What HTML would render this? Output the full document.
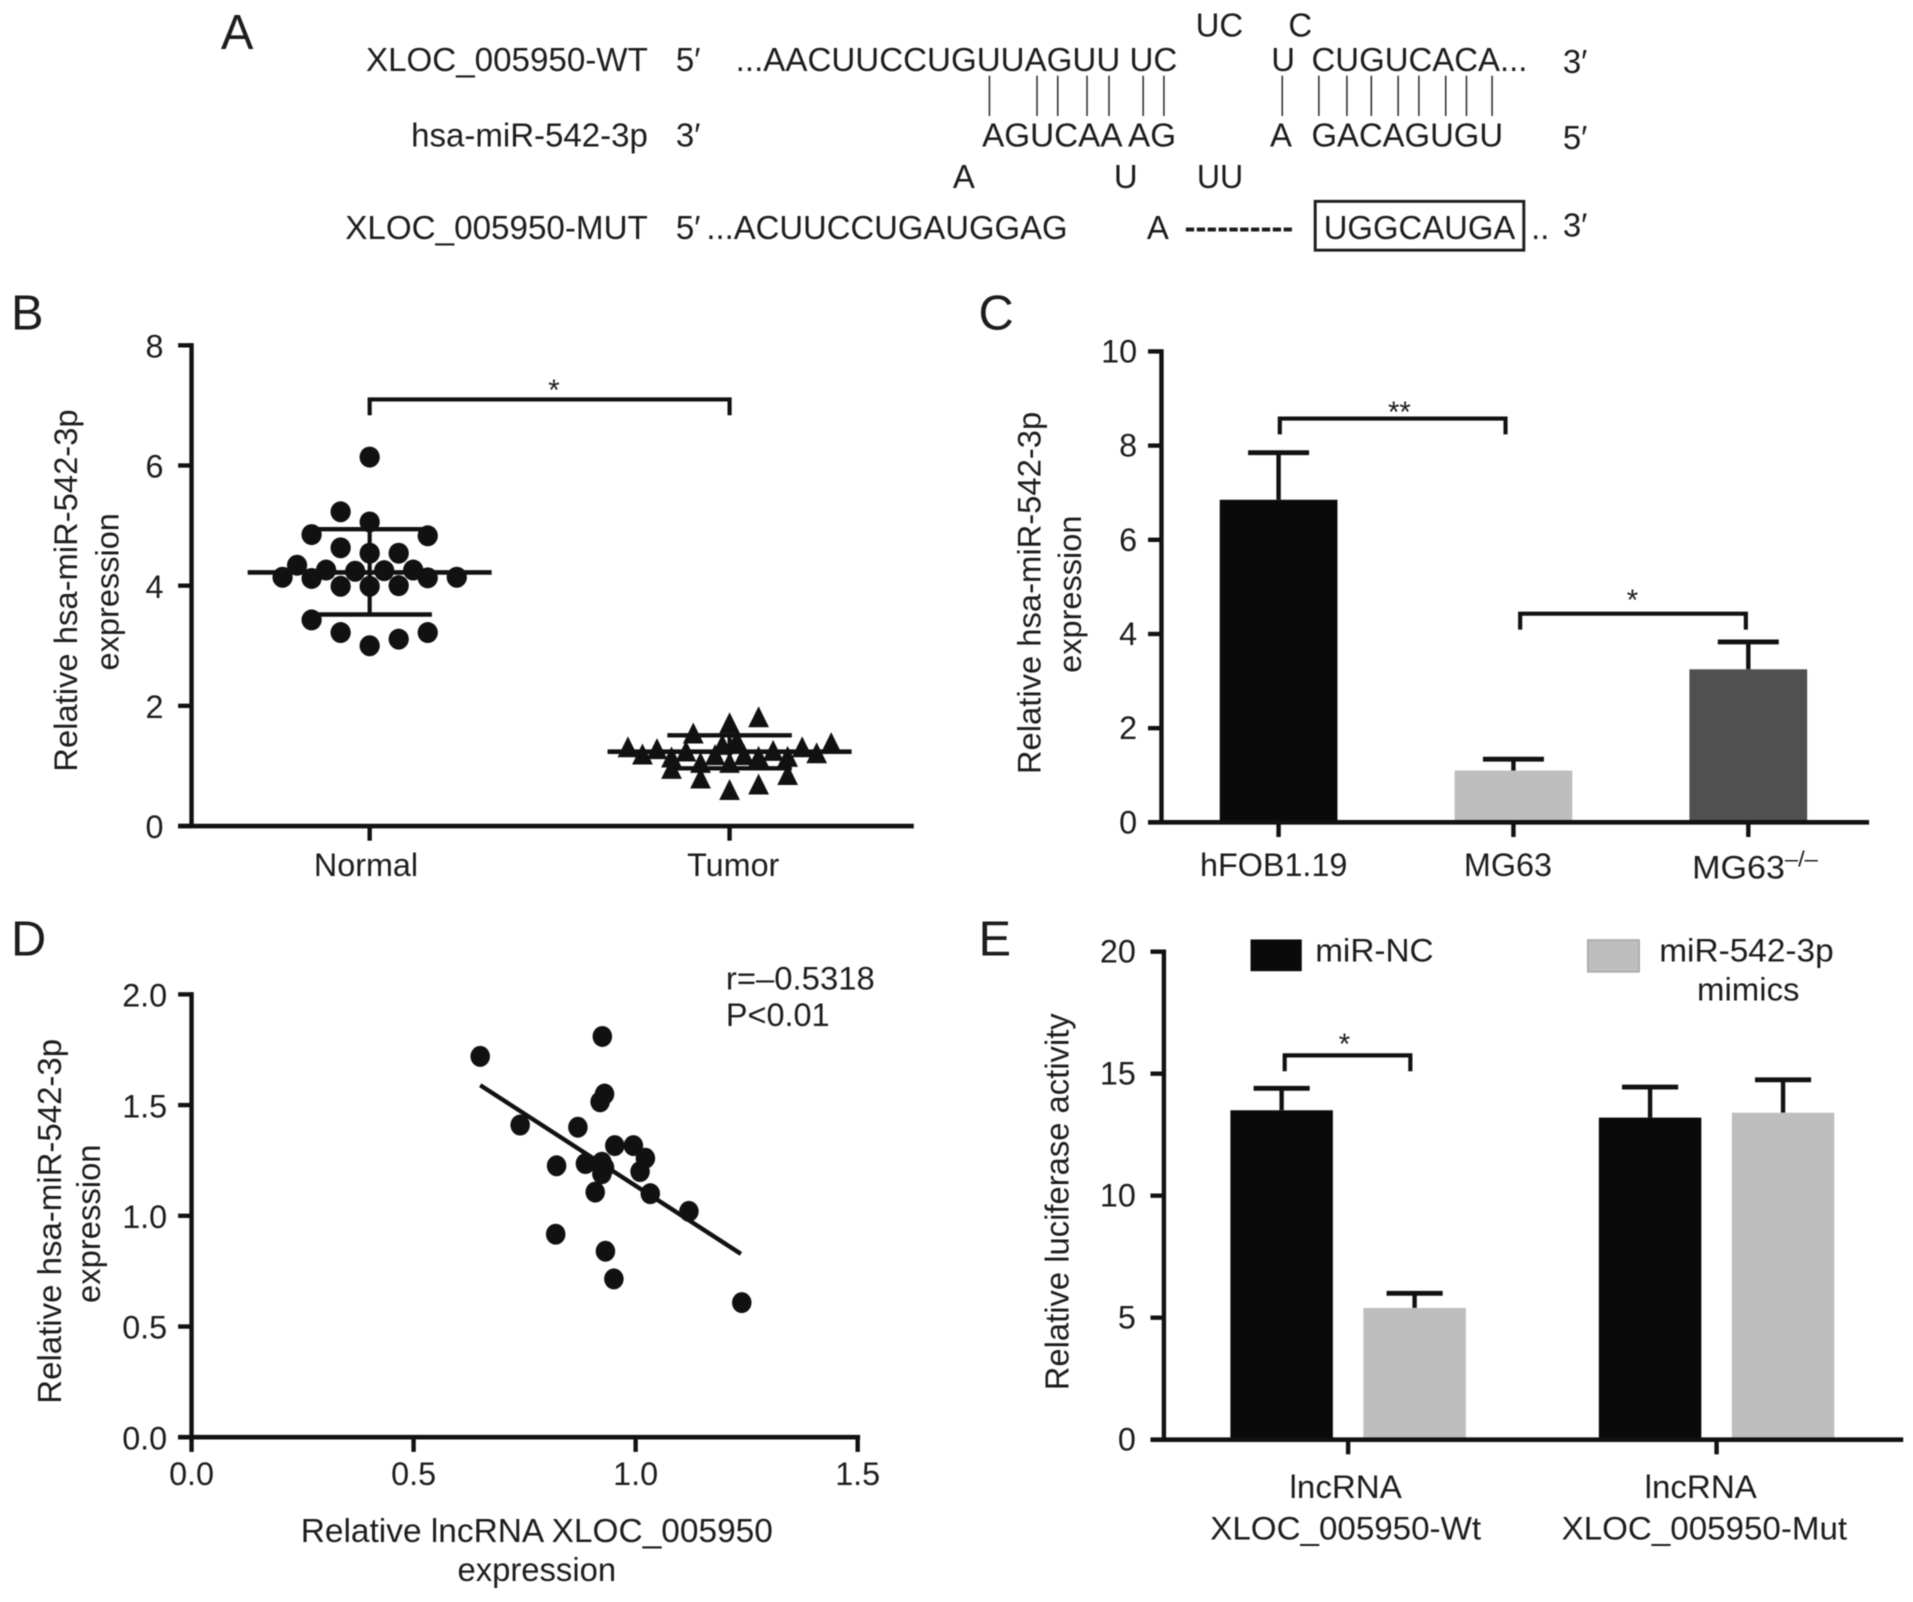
<!DOCTYPE html>
<html lang="en">
<head>
<meta charset="utf-8">
<title>hsa-miR-542-3p and XLOC_005950 figure</title>
<style>
html,body{margin:0;padding:0;background:#fff;overflow:hidden;}
svg{display:block;filter:blur(0.5px);}
text{font-family:"Liberation Sans",sans-serif;fill:#1d1d1d;}
</style>
</head>
<body>
<svg id="figure" xmlns="http://www.w3.org/2000/svg" width="1913" height="1602" viewBox="0 0 1568 1313">
<rect x="0" y="0" width="1568" height="1313" fill="#fff"/>
<g id="panel-a" font-size="27">
<text x="181" y="40" font-size="40">A</text>
<text x="980" y="30" textLength="39" lengthAdjust="spacingAndGlyphs">UC</text>
<text x="1056" y="30">C</text>
<text x="300" y="58" textLength="231" lengthAdjust="spacingAndGlyphs">XLOC_005950-WT</text>
<text x="554" y="58">5′</text>
<text x="603" y="58" textLength="362" lengthAdjust="spacingAndGlyphs">...AACUUCCUGUUAGUU UC</text>
<text x="1042" y="58">U</text>
<text x="1075" y="58" textLength="177" lengthAdjust="spacingAndGlyphs">CUGUCACA...</text>
<text x="1281" y="60">3′</text>
<g stroke="#333" stroke-width="1.3">
<line x1="811" x2="811" y1="62" y2="95"/>
<line x1="850" x2="850" y1="62" y2="95"/>
<line x1="867" x2="867" y1="62" y2="95"/>
<line x1="891" x2="891" y1="62" y2="95"/>
<line x1="909" x2="909" y1="62" y2="95"/>
<line x1="937" x2="937" y1="62" y2="95"/>
<line x1="954" x2="954" y1="62" y2="95"/>
<line x1="1051" x2="1051" y1="62" y2="95"/>
<line x1="1081" x2="1081" y1="62" y2="95"/>
<line x1="1104" x2="1104" y1="62" y2="95"/>
<line x1="1124" x2="1124" y1="62" y2="95"/>
<line x1="1146" x2="1146" y1="62" y2="95"/>
<line x1="1163" x2="1163" y1="62" y2="95"/>
<line x1="1185" x2="1185" y1="62" y2="95"/>
<line x1="1202" x2="1202" y1="62" y2="95"/>
<line x1="1223" x2="1223" y1="62" y2="95"/>
</g>
<text x="337" y="120" textLength="194" lengthAdjust="spacingAndGlyphs">hsa-miR-542-3p</text>
<text x="554" y="120">3′</text>
<text x="805" y="120" textLength="159" lengthAdjust="spacingAndGlyphs">AGUCAA AG</text>
<text x="1041" y="120">A</text>
<text x="1075" y="120" textLength="157" lengthAdjust="spacingAndGlyphs">GACAGUGU</text>
<text x="1281" y="122">5′</text>
<text x="781" y="154">A</text>
<text x="913" y="154">U</text>
<text x="981" y="154" textLength="38" lengthAdjust="spacingAndGlyphs">UU</text>
<text x="283" y="196" textLength="248" lengthAdjust="spacingAndGlyphs">XLOC_005950-MUT</text>
<text x="554" y="196">5′</text>
<text x="579" y="196" textLength="296" lengthAdjust="spacingAndGlyphs">...ACUUCCUGAUGGAG</text>
<text x="940" y="196">A</text>
<text x="971" y="195" font-weight="bold" textLength="89" lengthAdjust="spacingAndGlyphs">----------</text>
<rect x="1078" y="165" width="171" height="40" fill="none" stroke="#1d1d1d" stroke-width="2.4"/>
<text x="1085" y="196" textLength="157" lengthAdjust="spacingAndGlyphs">UGGCAUGA</text>
<text x="1255" y="196">..</text>
<text x="1281" y="194">3′</text>
</g>
</svg>
<script>
// Panel B values
const bCategories = ['Normal', 'Tumor'];
const bTicks = [0, 2, 4, 6, 8];
const normalValues = [6.14, 5.23, 5.06, 4.85, 4.83, 4.63, 4.54, 4.54, 4.34, 4.26, 4.24, 4.25, 4.26, 4.14, 4.12, 4.13, 4.14, 3.99, 3.99, 4.0, 3.43, 3.22, 3.22, 3.11, 3.0];
const normalSlots = [0, -2, 0, -4, 4, -2, 0, 2, -5, -3, -1, 1, 3, -6, -4, 4, 6, -2, 0, 2, -4, -2, 4, 2, 0];
const tumorValues = [1.81, 1.71, 1.54, 1.42, 1.35, 1.31, 1.28, 1.19, 1.24, 1.38, 1.31, 1.21, 1.14, 1.18, 1.18, 1.15, 1.25, 1.15, 1.05, 1.05, 0.95, 0.85, 0.79, 0.69, 0.6];
const tumorSlots = [2, 0, -2.5, 0.5, -0.5, -7, -5, -6, -3, 7, 5, 6, -4, -1, 1, 2, 3, 4, -2, 0, -4, 4, -2, 2, 0];
const bMeans = [4.22, 1.236];
const bUpper = [4.94, 1.51];
const bLower = [3.52, 0.96];
const bBracketLevel = 7.1;

// Panel C values
const cCategories = ['hFOB1.19', 'MG63', 'MG63'];
const cTicks = [0, 2, 4, 6, 8, 10];
const cMeans = [6.85, 1.1, 3.25];
const cErrorTops = [7.85, 1.34, 3.83];
const cBarColors = ['#0a0a0a', '#bebebe', '#505050'];

// Panel D values
const dXTicks = ['0.0', '0.5', '1.0', '1.5'];
const dYTicks = ['0.0', '0.5', '1.0', '1.5', '2.0'];
const dXValues = [0.65, 0.925, 0.93, 0.92, 0.74, 0.87, 0.953, 0.995, 1.022, 0.822, 0.887, 0.924, 0.93, 0.924, 1.01, 0.909, 1.033, 1.12, 0.82, 0.932, 0.951, 1.239];
const dYValues = [1.72, 1.81, 1.55, 1.515, 1.41, 1.4, 1.317, 1.317, 1.26, 1.226, 1.236, 1.242, 1.218, 1.19, 1.2, 1.107, 1.1, 1.02, 0.917, 0.84, 0.715, 0.608];
const dFitX = [0.65, 1.237];
const dFitY = [1.59, 0.828];

// Panel E values
const eTicks = [0, 5, 10, 15, 20];
const eNcMeans = [13.5, 13.2];
const eNcErrorTops = [14.4, 14.45];
const eMimicMeans = [5.4, 13.4];
const eMimicErrorTops = [6.0, 14.75];

const svg = document.getElementById('figure');
const NS = 'http://www.w3.org/2000/svg';
const INK = '#111';

function linear(d0, d1, r0, r1) {
  return function (v) { return r0 + (v - d0) * (r1 - r0) / (d1 - d0); };
}
function add(parent, tag, name, props) {
  const el = document.createElementNS(NS, tag);
  
  
  Object.keys(props).forEach(function (k) { el.setAttribute(k, props[k]); });
  parent.appendChild(el);
  return el;
}
function label(parent, name, str, x, y, size, anchor, length, rotate) {
  const props = { x: x, y: y, 'font-size': size, 'text-anchor': anchor || 'middle' };
  if (length) { props.textLength = length; props.lengthAdjust = 'spacingAndGlyphs'; }
  if (rotate) { props.transform = 'rotate(-90 ' + x + ' ' + y + ')'; }
  const el = add(parent, 'text', name, props);
  el.textContent = str;
  return el;
}
function seg(parent, name, x1, y1, x2, y2, w) {
  return add(parent, 'line', name, { x1: x1, y1: y1, x2: x2, y2: y2, stroke: INK, 'stroke-width': w || 3.6 });
}
function yAxis(parent, scale, ticks, axisX, top, bottom, labelRight, size, drop) {
  seg(parent, 'y-axis-line', axisX, top - 1.8, axisX, bottom, 3.6);
  ticks.forEach(function (t) {
    const y = scale(parseFloat(t));
    seg(parent, 'y-axis-tick', axisX - 11, y, axisX, y, 3.6);
    label(parent, 'y-tick-label', String(t), labelRight, y + (drop === undefined ? 10 : drop), size || 26.5, 'end');
  });
}
function bracket(parent, x1, x2, y, starX, starY, stars) {
  add(parent, 'path', 'significance-bracket', {
    d: 'M' + x1 + ' ' + (y + 13) + 'V' + y + 'H' + x2 + 'V' + (y + 13),
    fill: 'none', stroke: INK, 'stroke-width': 3.4
  });
  label(parent, 'significance-stars', stars, starX, starY, 24);
}
function bar(parent, name, cx, width, topValue, errValue, color, scale, baseY, cap) {
  const top = scale(topValue), err = scale(errValue);
  seg(parent, name + '-error-stem', cx, top, cx, err, 3.6);
  seg(parent, name + '-error-cap', cx - cap / 2, err, cx + cap / 2, err, 4);
  add(parent, 'rect', name, { x: cx - width / 2, y: top, width: width, height: baseY - top, fill: color });
}

// ---------- Panel B ----------
(function () {
  const g = add(svg, 'g', 'panel-b-scatter', {});
  label(g, 'panel-b-letter', 'B', 9, 270, 40, 'start');
  const y = linear(0, 8, 677, 283);
  const catX = linear(0, 1, 303, 598);
  const slot = 11.9;
  normalValues.forEach(function (v, i) {
    const dot = add(g, 'ellipse', 'normal-point', { cx: catX(0) + normalSlots[i] * slot, cy: y(v), rx: 8.3, ry: 8.6, fill: INK });
    dot.setAttribute('data-value', v);
  });
  tumorValues.forEach(function (v, i) {
    const cx = catX(1) + tumorSlots[i] * slot, cy = y(v);
    const tri = add(g, 'polygon', 'tumor-point', { points: (cx - 8.5) + ',' + (cy + 8.2) + ' ' + (cx + 8.5) + ',' + (cy + 8.2) + ' ' + cx + ',' + (cy - 9), fill: INK });
    tri.setAttribute('data-value', v);
  });
  bCategories.forEach(function (c, i) {
    const cx = catX(i);
    seg(g, 'group-mean-line', cx - 100, y(bMeans[i]), cx + 100, y(bMeans[i]), 3.8);
    seg(g, 'group-sd-stem', cx, y(bUpper[i]), cx, y(bLower[i]), 3.4);
    seg(g, 'group-sd-upper-cap', cx - 51, y(bUpper[i]), cx + 51, y(bUpper[i]), 3.6);
    seg(g, 'group-sd-lower-cap', cx - 51, y(bLower[i]), cx + 51, y(bLower[i]), 3.6);
    seg(g, 'x-axis-tick', cx, 677, cx, 689, 3.6);
    label(g, 'x-tick-label', c, cx + (i === 0 ? -3 : 3), 718, 26.5);
  });
  seg(g, 'x-axis-line', 146, 677, 749, 677, 3.8);
  yAxis(g, y, bTicks, 157, 283, 677, 134);
  bracket(g, catX(0), catX(1), y(bBracketLevel), 454, 328, '*');
  label(g, 'y-axis-title-line-1', 'Relative hsa-miR-542-3p', 63, 484, 26.4, 'middle', 297, true);
  label(g, 'y-axis-title-line-2', 'expression', 97, 485, 26.4, 'middle', 129, true);
})();

// ---------- Panel C ----------
(function () {
  const g = add(svg, 'g', 'panel-c-bars', {});
  label(g, 'panel-c-letter', 'C', 802, 270, 40, 'start');
  const y = linear(0, 10, 674, 288);
  const x = linear(0, 2, 1048, 1433);
  cCategories.forEach(function (c, i) {
    bar(g, 'bar-' + c.toLowerCase() + '-' + i, x(i), 96.5, cMeans[i], cErrorTops[i], cBarColors[i], y, 674, 50);
    seg(g, 'x-axis-tick', x(i), 674, x(i), 686, 3.6);
  });
  seg(g, 'x-axis-line', 941, 674, 1532, 674, 3.8);
  yAxis(g, y, cTicks, 952, 288, 674, 932, 26.5, 9);
  label(g, 'x-tick-label', cCategories[0], 1044, 718, 26.5);
  label(g, 'x-tick-label', cCategories[1], 1236, 718, 26.5);
  label(g, 'x-tick-label', cCategories[2], 1387, 720, 26.5, 'start', 76);
  label(g, 'x-tick-label-superscript', '–/–', 1463, 710, 18, 'start', 27);
  bracket(g, 1049, 1234, 343, 1147, 346, '**');
  bracket(g, 1246, 1431, 503, 1338, 500, '*');
  label(g, 'y-axis-title-line-1', 'Relative hsa-miR-542-3p', 853, 486, 26.4, 'middle', 297, true);
  label(g, 'y-axis-title-line-2', 'expression', 886, 487, 26.4, 'middle', 129, true);
})();

// ---------- Panel D ----------
(function () {
  const g = add(svg, 'g', 'panel-d-correlation', {});
  label(g, 'panel-d-letter', 'D', 9, 783, 40, 'start');
  const x = linear(0, 1.5, 157, 703);
  const y = linear(0, 2, 1178, 815);
  dXValues.forEach(function (v, i) {
    add(g, 'ellipse', 'correlation-point', { cx: x(v), cy: y(dYValues[i]), rx: 8, ry: 8.6, fill: INK });
  });
  seg(g, 'regression-line', x(dFitX[0]), y(dFitY[0]), x(dFitX[1]), y(dFitY[1]), 3.6);
  seg(g, 'x-axis-line', 146, 1178, 705, 1178, 3.8);
  dXTicks.forEach(function (t) {
    const px = x(parseFloat(t));
    seg(g, 'x-axis-tick', px, 1178, px, 1190, 3.6);
    label(g, 'x-tick-label', t, px, 1217, 26.5);
  });
  yAxis(g, y, dYTicks, 157, 815, 1178, 137);
  label(g, 'correlation-r', 'r=–0.5318', 595, 811, 26.5, 'start', 122);
  label(g, 'correlation-p', 'P<0.01', 595, 841, 26.5, 'start', 85);
  label(g, 'x-axis-title-line-1', 'Relative lncRNA XLOC_005950', 440, 1264, 27, 'middle', 387);
  label(g, 'x-axis-title-line-2', 'expression', 440, 1296, 27, 'middle', 130);
  label(g, 'y-axis-title-line-1', 'Relative hsa-miR-542-3p', 50, 1001, 27, 'middle', 299, true);
  label(g, 'y-axis-title-line-2', 'expression', 82, 1003, 27, 'middle', 130, true);
})();

// ---------- Panel E ----------
(function () {
  const g = add(svg, 'g', 'panel-e-bars', {});
  label(g, 'panel-e-letter', 'E', 802, 783, 40, 'start');
  const y = linear(0, 20, 1180, 780);
  const x = linear(0, 1, 1105, 1407);
  const off = 54.5, w = 84;
  eNcMeans.forEach(function (v, i) {
    bar(g, 'bar-mir-nc-' + i, x(i) - off, w, v, eNcErrorTops[i], '#0a0a0a', y, 1180, 46);
    bar(g, 'bar-mir-542-mimics-' + i, x(i) + off, w, eMimicMeans[i], eMimicErrorTops[i], '#bebebe', y, 1180, 46);
    seg(g, 'x-axis-tick', x(i), 1180, x(i), 1192, 3.6);
  });
  seg(g, 'x-axis-line', 943, 1180, 1560, 1180, 3.8);
  yAxis(g, y, eTicks, 954, 780, 1180, 931, 26.5, 9);
  bracket(g, 1053, 1156, 865, 1102, 864, '*');
  add(g, 'rect', 'legend-swatch-mir-nc', { x: 1025, y: 770, width: 42, height: 26, fill: '#0a0a0a' });
  add(g, 'rect', 'legend-swatch-mir-542-mimics', { x: 1301.5, y: 770.5, width: 42, height: 26, fill: '#bebebe', stroke: '#aaa', 'stroke-width': 1.4 });
  label(g, 'legend-label-mir-nc', 'miR-NC', 1078, 788, 26.5, 'start', 97);
  label(g, 'legend-label-mir-542-line-1', 'miR-542-3p', 1360, 788, 26.5, 'start', 143);
  label(g, 'legend-label-mir-542-line-2', 'mimics', 1433, 820, 26.5, 'middle', 84);
  label(g, 'x-tick-label-line-1', 'lncRNA', 1103, 1228, 26.5, 'middle', 92);
  label(g, 'x-tick-label-line-2', 'XLOC_005950-Wt', 1103, 1262, 26.5, 'middle', 222);
  label(g, 'x-tick-label-line-1', 'lncRNA', 1394, 1228, 26.5, 'middle', 92);
  label(g, 'x-tick-label-line-2', 'XLOC_005950-Mut', 1397, 1262, 26.5, 'middle', 234);
  label(g, 'y-axis-title', 'Relative luciferase activity', 876, 985, 27, 'middle', 309, true);
})();
</script>
</body>
</html>
